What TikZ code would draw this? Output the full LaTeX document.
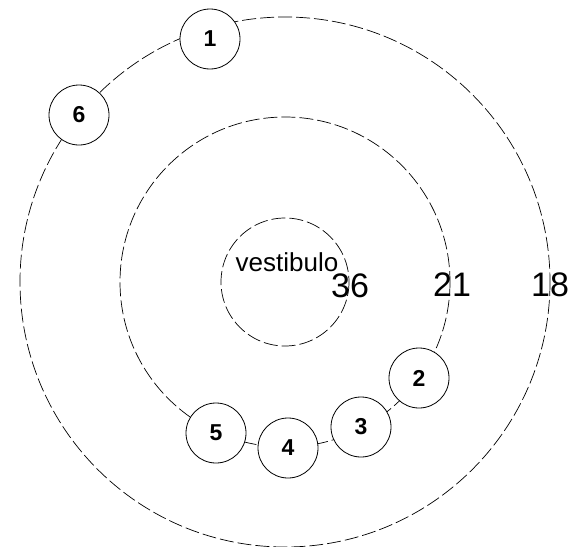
\documentclass[tikz,border=0pt]{standalone}
\usepackage{fontspec}
\setmainfont{Liberation Sans}
\usetikzlibrary{positioning}

\begin{document}
\begin{tikzpicture}[
  x=1pt, y=-1pt,
  ring/.style={draw, line width=0.7pt, dash pattern=on 14pt off 4pt},
  room/.style={circle, draw, fill=white, line width=0.8pt, minimum size=60pt,
               inner sep=0pt, font=\fontsize{23}{26}\selectfont\bfseries},
  level/.style={inner sep=0pt, font=\fontsize{34}{38}\selectfont},
  hall/.style={inner sep=0pt, font=\fontsize{26}{30}\selectfont}
]
  \useasboundingbox (0,0) rectangle (572,546);
  \coordinate (ctr) at (285,282);

  % rings
  \draw[ring] (ctr) circle (265);
  \draw[ring] (ctr) circle (165);
  \draw[ring] (ctr) circle (64);

  % labels
  \node[hall] (vest) at (287,262) {vestibulo};
  \node[level] (l36) at (350,286) {36};
  \node[level] (l21) at (452,285) {21};
  \node[level] (l18) at (550,285) {18};

  % rooms
  \node[room] (r1) at (210,39) {1};
  \node[room] (r6) at (79,115) {6};
  \node[room] (r2) at (419,378) {2};
  \node[room] (r3) at (361,427) {3};
  \node[room] (r4) at (288,448) {4};
  \node[room] (r5) at (216,433) {5};
\end{tikzpicture}
\end{document}
